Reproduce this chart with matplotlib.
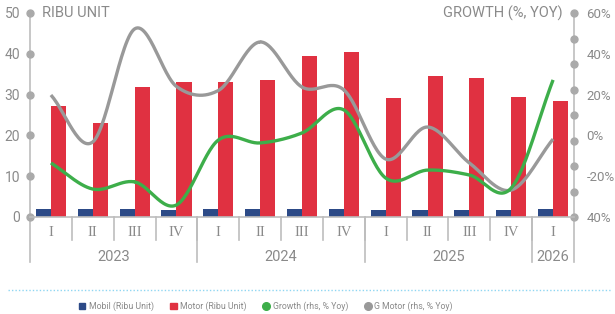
import numpy as np
import matplotlib
matplotlib.use("Agg")
import matplotlib.pyplot as plt
from matplotlib.lines import Line2D
from matplotlib.patches import Patch
from matplotlib import font_manager
import matplotlib.transforms as mtrans

quarters = ["I", "II", "III", "IV", "I", "II", "III", "IV", "I", "II", "III", "IV", "I"]
years = ["2023", "2024", "2025", "2026"]
year_len = [4, 4, 4, 1]

mobil = [2.0, 1.9, 1.9, 1.6, 2.0, 2.0, 2.0, 2.0, 1.6, 1.6, 1.6, 1.6, 2.0]
motor = [27.2, 23.0, 31.9, 33.1, 33.1, 33.6, 39.5, 40.4, 29.2, 34.5, 34.1, 29.4, 28.4]
growth = [-13.5, -26.3, -22.8, -34.1, -2.3, -3.7, 1.2, 12.5, -20.9, -17.0, -19.4, -25.8, 27.2]
g_motor = [19.8, -3.2, 52.2, 24.0, 22.0, 45.8, 23.7, 22.3, -11.6, 4.1, -13.5, -26.8, -1.8]

right_labels = ["40%", "-20%", "0%", "20%", "40%", "60%"]

NAVY = "#2c4a87"
RED = "#e03141"
GREEN = "#3dae4a"
GRAY = "#999999"
TXT = "#8a8a8a"
AX = "#bdbdbd"

names = {f.name for f in font_manager.fontManager.ttflist}
NARROW = "Liberation Sans Narrow" if "Liberation Sans Narrow" in names else "Roboto"


def smooth(x, y, n=30):
    # catmull-rom curve through the points
    x = np.asarray(x, float)
    y = np.asarray(y, float)
    px = np.concatenate([[2 * x[0] - x[1]], x, [2 * x[-1] - x[-2]]])
    py = np.concatenate([[2 * y[0] - y[1]], y, [2 * y[-1] - y[-2]]])
    xs, ys = [], []
    t = np.linspace(0, 1, n)
    for i in range(1, len(px) - 2):
        for p, out in ((px, xs), (py, ys)):
            p0, p1, p2, p3 = p[i - 1], p[i], p[i + 1], p[i + 2]
            out.append(0.5 * (2 * p1 + (-p0 + p2) * t + (2 * p0 - 5 * p1 + 4 * p2 - p3) * t ** 2
                              + (-p0 + 3 * p1 - 3 * p2 + p3) * t ** 3))
    return np.concatenate(xs), np.concatenate(ys)


fig = plt.figure(figsize=(6.15, 3.14), dpi=100)
ax = fig.add_axes([30 / 615, 1 - 217 / 314, 544 / 615, 204 / 314])
ax2 = ax.twinx()

x = np.arange(len(quarters))
w = 0.36
ax.bar(x - w / 2, mobil, w, color=NAVY, zorder=2)
ax.bar(x + w / 2, motor, w, color=RED, zorder=2)
ax.set_xlim(-0.5, len(quarters) - 0.5)
ax.set_ylim(0, 50)
ax.set_yticks(range(0, 51, 10))
ax.set_xticks([])

sx, sy = smooth(x, g_motor)
ax2.plot(sx, sy, color=GRAY, lw=2.4, zorder=3, solid_capstyle="butt")
sx, sy = smooth(x, growth)
ax2.plot(sx, sy, color=GREEN, lw=2.4, zorder=4, solid_capstyle="butt")
ax2.set_ylim(-40, 60)
ax2.set_yticks(range(-40, 61, 20))
ax2.set_yticklabels(right_labels)

for a in (ax, ax2):
    for s in a.spines.values():
        s.set_visible(False)
    a.tick_params(length=0, colors=TXT, labelsize=10)
    a.patch.set_visible(False)
ax.tick_params(axis="y", pad=7)
ax2.tick_params(axis="y", pad=9, labelsize=9.5)
for lab in ax.get_yticklabels() + ax2.get_yticklabels():
    lab.set_family(NARROW)

# axis lines with dots
ax.plot([0, 0], [1, -0.22], transform=ax.transAxes, color=AX, lw=1.2, clip_on=False)
ax.plot([1, 1], [1, -0.22], transform=ax.transAxes, color=AX, lw=1.2, clip_on=False)
ax.plot([0, 1], [0, 0], transform=ax.transAxes, color=AX, lw=1.2, clip_on=False, zorder=5)
ax.plot(np.zeros(6), np.linspace(0, 1, 6), "o", transform=ax.transAxes, color="#aaaaaa",
        ms=5, clip_on=False)
ax.plot(np.ones(9), np.linspace(0, 1, 9), "o", transform=ax.transAxes, color="#aaaaaa",
        ms=5, clip_on=False)

ax.text(12 / 544, 1, "RIBU UNIT", transform=ax.transAxes, ha="left", va="center",
        color=TXT, fontsize=10.5, family=NARROW)
ax.text(1 - 11 / 544, 1, "GROWTH (%, YOY)", transform=ax.transAxes, ha="right", va="center",
        color=TXT, fontsize=10.5, family=NARROW)

# category axis
bt = mtrans.blended_transform_factory(ax.transData, ax.transAxes)
for i, q in enumerate(quarters):
    ax.text(i, -0.075, q, transform=bt, ha="center", va="center", color=TXT,
            fontsize=10.5, family="Liberation Serif")
    if i > 0:
        ax.plot([i - 0.5, i - 0.5], [0, -0.115], transform=bt, color=AX, lw=1.2, clip_on=False)
start = 0
for yr, n in zip(years, year_len):
    ax.text(start + n / 2 - 0.5, -0.195, yr, transform=bt, ha="center", va="center", color=TXT,
            fontsize=10.5, family=NARROW)
    if start > 0:
        ax.plot([start - 0.5, start - 0.5], [0, -0.22], transform=bt, color=AX, lw=1.2,
                clip_on=False)
    start += n

fig.add_artist(Line2D([8 / 615, 612 / 615], [1 - 290 / 314] * 2, color="#8fd6f2", lw=1.0,
                      linestyle=(0, (1, 1.5))))

handles = [
    Patch(color=NAVY, label="Mobil (Ribu Unit)"),
    Patch(color=RED, label="Motor (Ribu Unit)"),
    Line2D([], [], marker="o", ls="none", color=GREEN, ms=5.5, label="Growth (rhs, % Yoy)"),
    Line2D([], [], marker="o", ls="none", color=GRAY, ms=5.5, label="G Motor (rhs, % Yoy)"),
]
leg = fig.legend(handles=handles, loc="center", bbox_to_anchor=(266 / 615, 1 - 306 / 314),
                 ncol=4, frameon=False, handlelength=0.7, handleheight=0.7,
                 handletextpad=0.4, columnspacing=1.9, prop={"family": NARROW, "size": 6.3})
for t in leg.get_texts():
    t.set_color(TXT)

fig.savefig("out.png", dpi=100)
